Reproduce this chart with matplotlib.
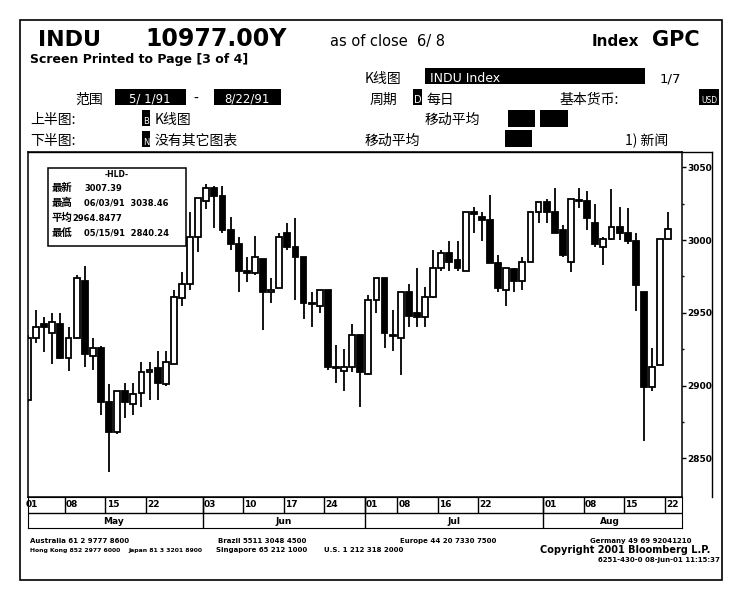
import numpy as np
import matplotlib
matplotlib.use("Agg")
import matplotlib.pyplot as plt
from matplotlib.patches import Rectangle
from matplotlib.lines import Line2D

plt.rcParams['font.family'] = ['DejaVu Sans', 'Noto Sans CJK SC']

# daily OHLC, 1 May .. 22 Aug
opens = [2890, 2933, 2942, 2936, 2942, 2919, 2933, 2972, 2920, 2926,
         2889, 2868, 2896, 2887, 2895, 2909, 2912, 2901, 2915, 2960,
         2970, 3002, 3027, 3036, 3030, 3007, 2997, 2979, 2977, 2987,
         2964, 2967, 3005, 2995, 2988, 2957, 2955, 2966, 2913, 2910,
         2913, 2935, 2908, 2959, 2974, 2935, 2933, 2964, 2950, 2947,
         2961, 2981, 2991, 2986, 2979, 3019, 3016, 3014, 2984, 2966,
         2980, 2972, 2985, 3019, 3026, 3019, 3007, 2985, 3027, 3027,
         3012, 2995, 3001, 3009, 3005, 2999, 2964, 2899, 2914, 3001]
highs = [2935, 2952, 2947, 2950, 2950, 2940, 2976, 2982, 2933, 2927,
         2901, 2896, 2902, 2902, 2916, 2916, 2924, 2924, 2966, 2978,
         3019, 3029, 3038.46, 3037, 3037, 3016, 3002, 2988, 3003, 2987,
         2974, 3005, 3012, 3015, 2988, 2964, 2966, 2966, 2928, 2925,
         2942, 2935, 2962, 2974, 2974, 2952, 2964, 2970, 2981, 2968,
         2993, 2993, 2999, 2999, 3019, 3023, 3019, 3031, 2990, 2981,
         2981, 2988, 3019, 3026, 3028, 3036, 3010, 3028, 3036, 3034,
         3025, 3002, 3035, 3023, 3022, 3005, 2964, 2926, 3001, 3019]
lows = [2889, 2929, 2923, 2915, 2918, 2910, 2932, 2913, 2911, 2880,
        2840.24, 2867, 2878, 2880, 2885, 2890, 2890, 2900, 2915, 2955,
        2966, 2992, 3021, 3008, 3005, 2993, 2964, 2971, 2976, 2938,
        2957, 2967, 2993, 2959, 2946, 2940, 2950, 2911, 2902, 2896,
        2909, 2885, 2907, 2950, 2926, 2924, 2907, 2940, 2940, 2940,
        2960, 2979, 2979, 2979, 2979, 3005, 2999, 2984, 2964, 2955,
        2964, 2966, 2985, 3012, 3012, 3005, 2988, 2978, 3022, 3007,
        2995, 2983, 3000, 3000, 2997, 2951, 2862, 2896, 2914, 3001]
closes = [2933, 2940, 2940, 2944, 2919, 2933, 2974, 2922, 2926, 2889,
          2868, 2896, 2889, 2894, 2909, 2911, 2902, 2916, 2961, 2970,
          3002, 3029, 3036, 3030, 3007, 2997, 2979, 2977, 2988, 2964,
          2966, 3002, 2995, 2988, 2957, 2956, 2966, 2913, 2912, 2913,
          2935, 2909, 2959, 2974, 2936, 2934, 2964, 2948, 2947, 2961,
          2981, 2991, 2985, 2981, 3019, 3018, 3014, 2984, 2967, 2981,
          2972, 2985, 3019, 3026, 3019, 3005, 2990, 3028, 3027.5, 3015,
          2997, 3001, 3009, 3005, 2999, 2969, 2899, 2913, 3001, 3007.39]

day_ticks = [0, 5, 10, 15, 22, 27, 32, 37, 42, 46, 51, 56, 64, 69, 74, 79]
day_labels = ['01', '08', '15', '22', '03', '10', '17', '24',
              '01', '08', '16', '22', '01', '08', '15', '22']
month_starts = [0, 22, 42, 64]
month_labels = ['May', 'Jun', 'Jul', 'Aug']

cjk = ['Noto Sans CJK SC', 'DejaVu Sans']
W, H = 750, 600


def fx(x):
    return x / W


def fy(y):
    return 1 - y / H


fig = plt.figure(figsize=(7.5, 6), dpi=100)
fig.patch.set_facecolor('white')


def box(x0, y0, x1, y1, fill='black', lw=0):
    fig.add_artist(Rectangle((fx(x0), fy(y1)), fx(x1 - x0), (y1 - y0) / H,
                             transform=fig.transFigure, facecolor=fill,
                             edgecolor='black', lw=lw))


def line(x0, y0, x1, y1, lw=1.0):
    fig.add_artist(Line2D([fx(x0), fx(x1)], [fy(y0), fy(y1)],
                          transform=fig.transFigure, color='black', lw=lw))


# page frame
box(20, 20, 722, 580, fill='none', lw=1.2)

# header
fig.text(fx(38), fy(46), 'INDU', fontsize=16, weight='bold')
fig.text(fx(145), fy(46), '10977.00Y', fontsize=17, weight='bold')
fig.text(fx(330), fy(46), 'as of close  6/ 8', fontsize=10.5)
fig.text(fx(592), fy(46), 'Index', fontsize=11, weight='bold')
fig.text(fx(652), fy(46), 'GPC', fontsize=15, weight='bold')
fig.text(fx(30), fy(63), 'Screen Printed to Page [3 of 4]', fontsize=9, weight='bold')

fig.text(fx(365), fy(83), 'K线图', fontsize=10, family=cjk)
box(425, 68, 645, 84)
fig.text(fx(430), fy(82), 'INDU Index', fontsize=9, color='white')
fig.text(fx(660), fy(83), '1/7', fontsize=9.5)

fig.text(fx(75), fy(104), '范围', fontsize=10, family=cjk)
box(115, 89, 186, 105)
fig.text(fx(150), fy(103), '5/ 1/91', fontsize=8.5, color='white', ha='center')
fig.text(fx(193), fy(103), '-', fontsize=10)
box(214, 89, 281, 105)
fig.text(fx(247), fy(103), '8/22/91', fontsize=8.5, color='white', ha='center')
fig.text(fx(370), fy(104), '周期', fontsize=10, family=cjk)
box(413, 89, 422, 105)
fig.text(fx(417.5), fy(103), 'D', fontsize=7, color='white', ha='center')
fig.text(fx(426), fy(104), '每日', fontsize=10, family=cjk)
fig.text(fx(560), fy(104), '基本货币:', fontsize=10, family=cjk)
box(699, 89, 719, 105)
fig.text(fx(709), fy(103), 'USD', fontsize=5.5, color='white', ha='center')

fig.text(fx(30), fy(124), '上半图:', fontsize=10, family=cjk)
box(142, 110, 150, 126)
fig.text(fx(146), fy(124), 'B', fontsize=6, color='white', ha='center')
fig.text(fx(155), fy(124), 'K线图', fontsize=10, family=cjk)
fig.text(fx(425), fy(124), '移动平均', fontsize=10, family=cjk)
box(508, 110, 535, 127)
box(540, 110, 568, 127)

fig.text(fx(30), fy(145), '下半图:', fontsize=10, family=cjk)
box(142, 131, 150, 147)
fig.text(fx(146), fy(145), 'N', fontsize=6, color='white', ha='center')
fig.text(fx(155), fy(145), '没有其它图表', fontsize=10, family=cjk)
fig.text(fx(365), fy(145), '移动平均', fontsize=10, family=cjk)
box(505, 130, 532, 147)
fig.text(fx(625), fy(145), '1) 新闻', fontsize=10, family=cjk)

# chart panel frame
line(28, 152, 712, 152)
line(712, 152, 712, 497)

# candlesticks
ax = fig.add_axes([fx(28), fy(497), fx(654), 345 / H])
idx = np.arange(len(opens))
o = np.array(opens)
c = np.array(closes)
up = c >= o
ax.vlines(idx, lows, highs, color='black', lw=1.3, zorder=1)
bottom = np.minimum(o, c)
height = np.maximum(np.abs(c - o), 0.6)
ax.bar(idx[up], height[up], bottom=bottom[up], width=0.72,
       facecolor='white', edgecolor='black', lw=1.3, zorder=2)
ax.bar(idx[~up], height[~up], bottom=bottom[~up], width=0.72,
       facecolor='black', edgecolor='black', lw=1.3, zorder=2)

ax.set_xlim(0, 80.7)
ax.set_ylim(2823.4, 3060.5)
ax.set_xticks([])
ax.yaxis.tick_right()
ax.set_yticks([2850, 2900, 2950, 3000, 3050])
ax.set_yticks([2875, 2925, 2975, 3025], minor=True)
ax.tick_params(axis='y', which='major', direction='out', length=3, width=1,
               labelsize=6.5, pad=1)
ax.tick_params(axis='y', which='minor', direction='out', length=1.5, width=1)
for t in ax.get_yticklabels():
    t.set_fontweight('bold')
for s in ax.spines.values():
    s.set_linewidth(1.1)

# info box
box(48, 168, 186, 246, fill='white', lw=1.1)
fig.text(fx(117), fy(177), '-HLD-', fontsize=5.5, weight='bold', ha='center')
info = [('最新', '3007.39'),
        ('最高', '06/03/91  3038.46'),
        ('平均', '2964.8477'),
        ('最低', '05/15/91  2840.24')]
for k, (lab, val) in enumerate(info):
    yy = fy(191 + k * 15)
    fig.text(fx(52), yy, lab, fontsize=7.5, weight='bold', family=cjk)
    fig.text(fx(72 if k == 2 else 84), yy, val, fontsize=6, weight='bold')

# date strip
axd = fig.add_axes([fx(28), fy(528), fx(654), 31 / H])
axd.set_xlim(0, 80.7)
axd.set_ylim(0, 2)
axd.set_xticks([])
axd.set_yticks([])
axd.axhline(1, color='black', lw=1)
for t, lab in zip(day_ticks, day_labels):
    axd.vlines(t - 0.45, 1, 2, color='black', lw=1)
    axd.text(t - 0.3, 1.5, lab, fontsize=6.5, weight='bold', va='center')
ends = month_starts[1:] + [80.7]
for s, e, lab in zip(month_starts, ends, month_labels):
    axd.vlines(s - 0.45, 0, 2, color='black', lw=1)
    axd.text((s + e) / 2 - 0.5, 0.45, lab, fontsize=6.5, weight='bold',
             ha='center', va='center')

# footer
fs = 5.0
fig.text(fx(30), fy(543), 'Australia 61 2 9777 8600', fontsize=fs, weight='bold')
fig.text(fx(218), fy(543), 'Brazil 5511 3048 4500', fontsize=fs, weight='bold')
fig.text(fx(400), fy(543), 'Europe 44 20 7330 7500', fontsize=fs, weight='bold')
fig.text(fx(590), fy(543), 'Germany 49 69 92041210', fontsize=fs, weight='bold')
fig.text(fx(30), fy(552), 'Hong Kong 852 2977 6000', fontsize=4.4, weight='bold')
fig.text(fx(128), fy(552), 'Japan 81 3 3201 8900', fontsize=4.4, weight='bold')
fig.text(fx(216), fy(552), 'Singapore 65 212 1000', fontsize=fs, weight='bold')
fig.text(fx(324), fy(552), 'U.S. 1 212 318 2000', fontsize=fs, weight='bold')
fig.text(fx(540), fy(553), 'Copyright 2001 Bloomberg L.P.', fontsize=7, weight='bold')
fig.text(fx(598), fy(562), '6251-430-0 08-Jun-01 11:15:37', fontsize=fs, weight='bold')

fig.savefig('out.png', dpi=100, facecolor='white')
